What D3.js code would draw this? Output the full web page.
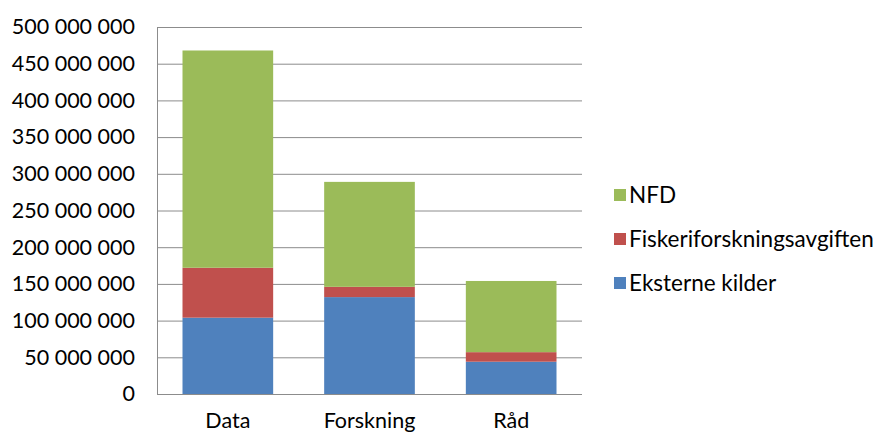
<!DOCTYPE html>
<html>
<head>
<meta charset="utf-8">
<script src="https://cdn.jsdelivr.net/npm/d3@7"></script>
<style>
  html, body { margin: 0; padding: 0; background: #fff; overflow: hidden; }
  svg { display: block; }
  text { font-family: "Lato", "Open Sans", sans-serif; fill: #000; }
</style>
</head>
<body>
<svg id="chart" width="875" height="435"></svg>
<script>
// Funding by activity (NOK), stacked by source
const categories = ["Data", "Forskning", "Råd"];
const seriesNames = ["Eksterne kilder", "Fiskeriforskningsavgiften", "NFD"];
const eksterneKilder = [104000000, 132000000, 44000000];
const fiskeriavgift = [68000000, 14000000, 13000000];
const nfd = [296000000, 143000000, 97000000];
const seriesColors = ["#4F81BD", "#C0504D", "#9BBB59"];
const yTicks = [0, 50000000, 100000000, 150000000, 200000000, 250000000,
                300000000, 350000000, 400000000, 450000000, 500000000];

const svg = d3.select("#chart");
const margin = { left: 157, right: 293, top: 27, bottom: 41 };
const W = 875, H = 435;
const innerW = W - margin.left - margin.right;
const innerH = H - margin.top - margin.bottom;

const rows = categories.map((c, i) => ({
  category: c,
  "Eksterne kilder": eksterneKilder[i],
  "Fiskeriforskningsavgiften": fiskeriavgift[i],
  "NFD": nfd[i]
}));
const stacked = d3.stack().keys(seriesNames)(rows);

const x = d3.scaleBand().domain(categories).range([0, innerW])
  .paddingInner(0.36).paddingOuter(0.18);
const y = d3.scaleLinear().domain([0, 500000000]).range([innerH, 0]);
const color = d3.scaleOrdinal().domain(seriesNames).range(seriesColors);

const g = svg.append("g").attr("transform", `translate(${margin.left},${margin.top})`);

// horizontal gridlines
g.append("g").selectAll("line").data(yTicks.slice(1)).join("line")
  .attr("x1", 0).attr("x2", innerW)
  .attr("y1", d => y(d) + 0.5).attr("y2", d => y(d) + 0.5)
  .attr("stroke", "#8c8c8c").attr("stroke-width", 1);

// y axis labels
const fmt = d => d3.format(",")(d).replace(/,/g, " ");
const yAxis = g.append("g")
  .call(d3.axisLeft(y).tickValues(yTicks).tickFormat(fmt).tickSize(0).tickPadding(22));
yAxis.select(".domain").remove();
yAxis.selectAll("text").style("font-size", "21.5px").attr("fill", "#000");

// stacked bars
g.append("g").selectAll("g").data(stacked).join("g")
  .attr("fill", d => color(d.key))
  .selectAll("rect").data(d => d).join("rect")
  .attr("x", d => x(d.data.category))
  .attr("y", d => y(d[1]))
  .attr("width", x.bandwidth())
  .attr("height", d => y(d[0]) - y(d[1]));

// axis lines
g.append("line").attr("x1", 0.5).attr("x2", 0.5).attr("y1", 0).attr("y2", innerH)
  .attr("stroke", "#8c8c8c");
g.append("line").attr("x1", 0).attr("x2", innerW)
  .attr("y1", innerH + 0.5).attr("y2", innerH + 0.5).attr("stroke", "#8c8c8c");

// x axis labels
const xAxis = g.append("g").attr("transform", `translate(0,${innerH})`)
  .call(d3.axisBottom(x).tickSize(0).tickPadding(19));
xAxis.select(".domain").remove();
xAxis.selectAll("text").style("font-size", "21.5px").attr("fill", "#000");

// legend (top to bottom: NFD, Fiskeriforskningsavgiften, Eksterne kilder)
const legendItems = seriesNames.slice().reverse();
const legend = svg.append("g").attr("transform", "translate(614,195)");
const li = legend.selectAll("g").data(legendItems).join("g")
  .attr("transform", (d, i) => `translate(0,${i * 44})`);
li.append("rect").attr("x", 0).attr("y", -6).attr("width", 12).attr("height", 12)
  .attr("fill", d => color(d));
li.append("text").attr("x", 15).attr("y", 0).attr("dy", "0.35em")
  .style("font-size", "22.5px").text(d => d);
</script>
</body>
</html>
